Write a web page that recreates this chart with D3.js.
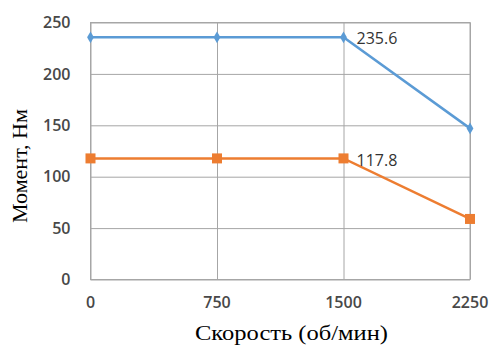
<!DOCTYPE html>
<html>
<head>
<meta charset="utf-8">
<script src="https://cdn.jsdelivr.net/npm/d3@7"></script>
<style>
    body { margin: 0; background: #fff; }
    svg { display: block; }
</style>
</head>
<body>
<svg id="chart" width="491" height="345"></svg>
<script>
var speeds = [0, 750, 1500, 2250];
var torqueHigh = [235.6, 235.6, 235.6, 147];
var torqueLow = [117.8, 117.8, 117.8, 58.9];
var yTicks = [0, 50, 100, 150, 200, 250];
var labelHigh = "235.6";
var labelLow = "117.8";

(function () {
    var svg = d3.select("#chart"),
        margin = { top: 22.5, right: 21, bottom: 65.5, left: 90.5 },
        width = +svg.attr("width") - margin.left - margin.right,
        height = +svg.attr("height") - margin.top - margin.bottom,
        g = svg.append("g").attr("transform", "translate(" + margin.left + "," + margin.top + ")");

    var x = d3.scalePoint()
        .domain(speeds)
        .range([0, width]);

    var y = d3.scaleLinear()
        .domain([0, 250])
        .range([height, 0]);

    // grid
    g.append("g")
        .call(d3.axisLeft(y).tickValues(yTicks).tickSize(-width).tickFormat(""))
        .call(function (a) { a.select(".domain").remove(); })
        .selectAll("line").attr("stroke", "#a6a6a6");

    g.append("g")
        .attr("transform", "translate(0," + height + ")")
        .call(d3.axisBottom(x).tickSize(-height).tickFormat(""))
        .call(function (a) { a.select(".domain").remove(); })
        .selectAll("line").attr("stroke", "#a6a6a6");

    g.append("rect")
        .attr("width", width)
        .attr("height", height)
        .attr("fill", "none")
        .attr("stroke", "#a6a6a6");

    // tick labels
    g.append("g")
        .selectAll("text")
        .data(yTicks)
        .enter().append("text")
        .attr("x", -20)
        .attr("y", function (d) { return y(d); })
        .attr("dy", "0.35em")
        .attr("text-anchor", "end")
        .attr("font-family", "Open Sans, sans-serif")
        .attr("font-size", 16)
        .attr("font-weight", 600)
        .attr("fill", "#484848")
        .text(function (d) { return d; });

    g.append("g")
        .selectAll("text")
        .data(speeds)
        .enter().append("text")
        .attr("x", function (d) { return x(d); })
        .attr("y", height + 23)
        .attr("dy", "0.35em")
        .attr("text-anchor", "middle")
        .attr("font-family", "Open Sans, sans-serif")
        .attr("font-size", 16)
        .attr("font-weight", 600)
        .attr("fill", "#484848")
        .text(function (d) { return d; });

    var line = d3.line()
        .x(function (d, i) { return x(speeds[i]); })
        .y(function (d) { return y(d); });

    g.append("path")
        .datum(torqueHigh)
        .attr("fill", "none")
        .attr("stroke", "#5b9bd5")
        .attr("stroke-width", 2.5)
        .attr("d", line);

    g.append("path")
        .datum(torqueLow)
        .attr("fill", "none")
        .attr("stroke", "#ed7d31")
        .attr("stroke-width", 2.5)
        .attr("d", line);

    g.selectAll(".dia")
        .data(torqueHigh)
        .enter().append("path")
        .attr("class", "dia")
        .attr("transform", function (d, i) { return "translate(" + x(speeds[i]) + "," + y(d) + ")"; })
        .attr("d", d3.symbol().type(d3.symbolDiamond).size(40))
        .attr("fill", "#5b9bd5");

    g.selectAll(".sq")
        .data(torqueLow)
        .enter().append("rect")
        .attr("class", "sq")
        .attr("x", function (d, i) { return x(speeds[i]) - 5; })
        .attr("y", function (d) { return y(d) - 5; })
        .attr("width", 10)
        .attr("height", 10)
        .attr("fill", "#ed7d31");

    // data labels
    g.append("text")
        .attr("x", x(1500) + 13)
        .attr("y", y(torqueHigh[2]) + 1)
        .attr("dy", "0.35em")
        .attr("font-family", "Open Sans, sans-serif")
        .attr("font-size", 16)
        .attr("fill", "#333")
        .text(labelHigh);

    g.append("text")
        .attr("x", x(1500) + 13)
        .attr("y", y(torqueLow[2]) + 2)
        .attr("dy", "0.35em")
        .attr("font-family", "Open Sans, sans-serif")
        .attr("font-size", 16)
        .attr("fill", "#333")
        .text(labelLow);

    // axis titles
    svg.append("text")
        .attr("transform", "translate(27,166) rotate(-90)")
        .attr("text-anchor", "middle")
        .attr("font-family", "Liberation Serif, serif")
        .attr("font-size", 22)
        .attr("fill", "#000")
        .text("Момент, Нм");

    svg.append("text")
        .attr("x", 195)
        .attr("y", 340)
        .attr("textLength", 193)
        .attr("lengthAdjust", "spacingAndGlyphs")
        .attr("font-family", "Liberation Serif, serif")
        .attr("font-size", 22)
        .attr("fill", "#000")
        .text("Скорость (об/мин)");
})();
</script>
</body>
</html>
